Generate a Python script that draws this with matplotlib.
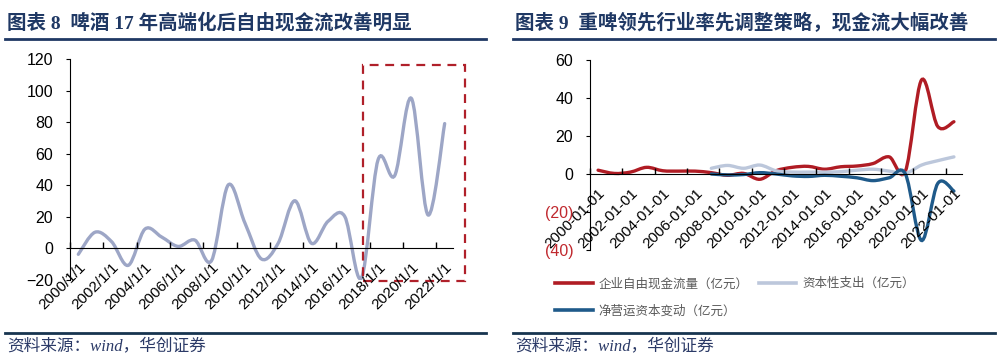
import matplotlib
matplotlib.use("Agg")
import matplotlib.pyplot as plt
import numpy as np
from matplotlib.path import Path
from matplotlib.patches import PathPatch, Rectangle
from matplotlib.lines import Line2D

plt.rcParams['font.family'] = ['Liberation Sans', 'Noto Sans CJK SC', 'DejaVu Sans']

# === DATA ===
years = list(range(2000, 2023))
labels_left = [f"{y}/1/1" for y in years]
labels_right = [f"{y}-01-01" for y in years]

# 图表8: 啤酒自由现金流
beer_fcf = [-4, 10, 4, -11, 12, 7, 1, 5, -8, 40, 16, -7, 3, 30, 3, 17, 20, -19, 56, 46, 95, 21, 79]

# 图表9: 重啤
fcf = [2, 0.3, 1, 3.5, 1.7, 1.5, 1.5, 0.7, -0.7, 0.3, -2.8, 1.7, 3.5, 4, 2.5, 3.8, 4.2, 5.5, 9, 1.5, 49.5, 25, 27.5]
capex = [np.nan] * 7 + [3, 4.5, 3, 4.7, 1.7, 1, 1, 1, 1.2, 2, 2.5, 1.5, 0.3, 4.7, 7, 9]
nwc = [np.nan] * 7 + [0, -0.5, -0.3, 0.7, 0, -1, -1.3, -0.7, -1.2, -2, -3.5, -2, 0, -35, -5, -9]

series_names = ["企业自由现金流量（亿元）", "资本性支出（亿元）", "净营运资本变动（亿元）"]
series_colors = ["#B01C24", "#BCC7DB", "#1F5A8A"]

NAVY = "#1F3864"


def smooth_path(xs, ys):
    # excel-like smoothed line: catmull-rom -> cubic bezier
    verts, codes = [], []
    xs = np.asarray(xs, float)
    ys = np.asarray(ys, float)
    idx = np.where(~np.isnan(ys))[0]
    runs = np.split(idx, np.where(np.diff(idx) != 1)[0] + 1)
    for r in runs:
        x, y = xs[r], ys[r]
        n = len(x)
        verts.append((x[0], y[0]))
        codes.append(Path.MOVETO)
        for i in range(n - 1):
            p0 = i - 1 if i > 0 else i
            p3 = i + 2 if i + 2 < n else i + 1
            c1 = (x[i] + (x[i + 1] - x[p0]) / 6, y[i] + (y[i + 1] - y[p0]) / 6)
            c2 = (x[i + 1] - (x[p3] - x[i]) / 6, y[i + 1] - (y[p3] - y[i]) / 6)
            verts += [c1, c2, (x[i + 1], y[i + 1])]
            codes += [Path.CURVE4] * 3
    return Path(verts, codes)


def category_axis(ax, labels):
    # spine position first: it resets the ticks
    ax.spines['bottom'].set_position(('data', 0))
    for s in ['top', 'right']:
        ax.spines[s].set_visible(False)
    n = len(labels)
    ax.set_xlim(-0.5, n - 0.5)
    ax.set_xticks(np.arange(0, n, 2))
    ax.set_xticklabels(labels[::2], rotation=45, ha='right', va='top',
                       rotation_mode='anchor', fontsize=11)
    ax.set_xticks(np.arange(-0.5, n - 1, 2), minor=True)
    ax.tick_params(axis='x', which='major', length=0, pad=9)
    ax.tick_params(axis='x', which='minor', direction='in', length=4, width=1)
    ax.tick_params(axis='y', direction='out', length=3, pad=9, labelsize=11.5)


fig = plt.figure(figsize=(10, 3.6), dpi=100)

# === LEFT: 图表8 ===
ax1 = fig.add_axes([0.070, 0.2236, 0.383, 0.6125])
x = np.arange(len(years))
ax1.add_patch(PathPatch(smooth_path(x, beer_fcf), facecolor='none',
                        edgecolor='#9DA6C6', lw=2.4, capstyle='round'))
ax1.set_ylim(-20, 120)
ax1.set_yticks(range(-20, 121, 20))
category_axis(ax1, labels_left)
# highlight box 2018-2022
i18 = years.index(2018)
ax1.add_patch(Rectangle((i18 - 0.9, -21), len(years) - i18 + 1.1, 137.5,
                        fill=False, edgecolor='#B0202A', lw=1.6,
                        linestyle=(0, (4, 3)), clip_on=False))

# === RIGHT: 图表9 ===
ax2 = fig.add_axes([0.590, 0.3056, 0.372, 0.5278])
for vals, c in zip([fcf, capex, nwc], series_colors):
    ax2.add_patch(PathPatch(smooth_path(x, vals), facecolor='none',
                            edgecolor=c, lw=2.4, capstyle='round'))
ax2.set_ylim(-40, 60)
category_axis(ax2, labels_right)
yt = [-40, -20, 0, 20, 40, 60]
ax2.set_yticks(yt)
ax2.set_yticklabels([f"({abs(v)})" if v < 0 else str(v) for v in yt])
for t, v in zip(ax2.get_yticklabels(), yt):
    if v < 0:
        t.set_color('#C0282E')

handles = [Line2D([], [], color=c, lw=2.6) for c in series_colors]
order = [0, 2, 1]
fig.legend([handles[i] for i in order], [series_names[i] for i in order],
           loc='upper left', bbox_to_anchor=(0.555, 0.228), ncol=2,
           frameon=False, fontsize=9, handlelength=3.0, handletextpad=0.5,
           columnspacing=0.8, labelspacing=1.2, borderpad=0, borderaxespad=0,
           labelcolor='#595959')

# === TITLES / FRAMES ===
title_font = ['Liberation Serif', 'Noto Sans CJK SC']
fig.text(0.007, 0.936, "图表 8  啤酒 17 年高端化后自由现金流改善明显", fontsize=14,
         fontweight='bold', color=NAVY, va='center', family=title_font)
fig.text(0.515, 0.936, "图表 9  重啤领先行业率先调整策略，现金流大幅改善", fontsize=14,
         fontweight='bold', color=NAVY, va='center', family=title_font)
for x0, x1 in [(0.005, 0.486), (0.513, 0.995)]:
    fig.add_artist(Line2D([x0, x1], [0.893, 0.893], color=NAVY, lw=2))
    fig.add_artist(Line2D([x0, x1], [0.075, 0.075], color='#17344F', lw=2))
for x0 in [0.007, 0.515]:
    fig.text(x0, 0.038, "资料来源：wind，华创证券", fontsize=12, style='italic',
             color='#2B3A67', va='center', family=title_font)

fig.savefig("out.png", dpi=100)
